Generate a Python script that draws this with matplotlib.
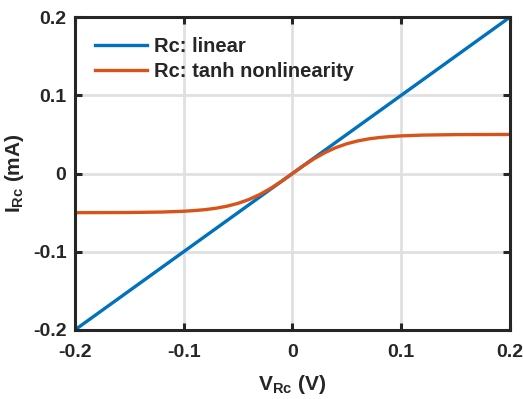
import matplotlib
matplotlib.use("Agg")
import matplotlib.pyplot as plt

# values
v_linear = [-0.2, 0.2]
i_linear = [-0.2, 0.2]

v_tanh = [-0.2, -0.15, -0.12, -0.1, -0.09, -0.08, -0.07, -0.06, -0.05, -0.04,
          -0.03, -0.02, -0.01, 0.0, 0.01, 0.02, 0.03, 0.04, 0.05, 0.06,
          0.07, 0.08, 0.09, 0.1, 0.12, 0.15, 0.2]
i_tanh = [-0.05, -0.0498, -0.0492, -0.0482, -0.0473, -0.0461, -0.0443, -0.0417, -0.0381, -0.0332,
          -0.0268, -0.019, -0.0099, 0.0, 0.0099, 0.019, 0.0268, 0.0332, 0.0381, 0.0417,
          0.0443, 0.0461, 0.0473, 0.0482, 0.0492, 0.0498, 0.05]

ticks = [-0.2, -0.1, 0, 0.1, 0.2]
tick_labels = ["-0.2", "-0.1", "0", "0.1", "0.2"]

plt.rcParams['font.family'] = ['Liberation Sans', 'DejaVu Sans']
plt.rcParams['font.weight'] = 'bold'
plt.rcParams['mathtext.fontset'] = 'custom'
plt.rcParams['mathtext.rm'] = 'Liberation Sans:bold'
plt.rcParams['mathtext.bf'] = 'Liberation Sans:bold'
plt.rcParams['mathtext.it'] = 'Liberation Sans:bold'

fig = plt.figure(figsize=(5.23, 3.99), dpi=100)
ax = fig.add_axes([0.143, 0.173, 0.832, 0.784])

ax.plot(v_linear, i_linear, color=(0.0, 0.447, 0.741), lw=2.4, label='Rc: linear')
ax.plot(v_tanh, i_tanh, color=(0.85, 0.325, 0.098), lw=2.4, label='Rc: tanh nonlinearity')

ax.set_xlim(-0.2, 0.2)
ax.set_ylim(-0.2, 0.2)
ax.set_xticks(ticks)
ax.set_xticklabels(tick_labels)
ax.set_yticks(ticks)
ax.set_yticklabels(tick_labels)
ax.grid(True, color='#e0e0e0', lw=2.0)
ax.set_axisbelow(True)

for s in ax.spines.values():
    s.set_linewidth(2.2)
    s.set_color('#262626')
ax.tick_params(direction='in', length=5, width=2.2, color='#262626',
               labelsize=14, labelcolor='#262626', top=True, right=True,
               labeltop=False, labelright=False)
ax.tick_params(axis='x', pad=10)
ax.tick_params(axis='y', pad=6)

ax.set_xlabel(r'$\mathrm{V_{Rc}}$ (V)', fontsize=15, fontweight='bold',
              color='#262626', labelpad=9)
ax.set_ylabel(r'$\mathrm{I_{Rc}}$ (mA)', fontsize=15, fontweight='bold',
              color='#262626', labelpad=5)

leg = ax.legend(loc='upper left', frameon=False, fontsize=14.5, handlelength=2.6,
                handletextpad=0.35, borderaxespad=0.6, labelspacing=0.3)
for t in leg.get_texts():
    t.set_color('#262626')

fig.savefig('out.png', dpi=100)
